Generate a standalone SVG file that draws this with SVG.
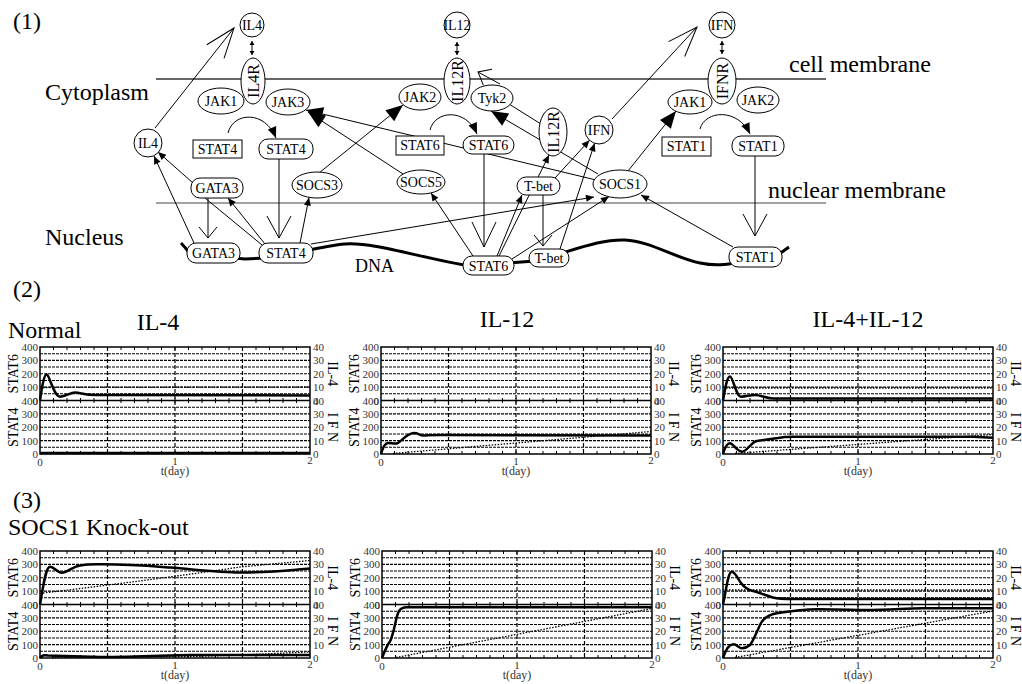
<svg xmlns="http://www.w3.org/2000/svg" xmlns:xlink="http://www.w3.org/1999/xlink" width="1022" height="684" viewBox="0 0 1022 684">
<style>
.n{fill:#fff;stroke:#000;stroke-width:1}
.t{font-family:"Liberation Serif",serif;font-size:14px;text-anchor:middle;fill:#000}
.tr{font-family:"Liberation Serif",serif;font-size:16px;text-anchor:middle;fill:#000}
.big{font-family:"Liberation Serif",serif;font-size:24px;fill:#000}
.e{fill:none;stroke:#000;stroke-width:1}
.sol{fill:none;stroke:#000;stroke-width:2.5;stroke-linejoin:round}
.dot{fill:none;stroke:#000;stroke-width:1.3;stroke-dasharray:1.5,1.5}
.grid{stroke:#000;stroke-width:1.1;stroke-dasharray:3,1;fill:none}
.vg{stroke:#000;stroke-width:1.2;stroke-dasharray:4,2;fill:none}
.tk{font-family:"Liberation Serif",serif;font-size:11px;fill:#333}
.ax{font-family:"Liberation Serif",serif;font-size:14px;fill:#000;text-anchor:middle}
</style>
<defs>
<marker id="arrS" markerUnits="userSpaceOnUse" orient="auto" overflow="visible" refX="0" refY="0" markerWidth="10" markerHeight="8"><path d="M0,0 L-8,-3.5 L-8,3.5 Z" fill="#000"/></marker>
<marker id="arrC" markerUnits="userSpaceOnUse" orient="auto" overflow="visible" refX="0" refY="0" markerWidth="12" markerHeight="10"><path d="M0,0 L-11,-4.5 L-11,4.5 Z" fill="#000"/></marker>
<marker id="arrF" markerUnits="userSpaceOnUse" orient="auto" overflow="visible" refX="0" refY="0" markerWidth="18" markerHeight="16"><path d="M0,0 L-17,-7 L-17,7 Z" fill="#000"/></marker>
<marker id="dbl" markerUnits="userSpaceOnUse" orient="auto-start-reverse" overflow="visible" refX="0" refY="0" markerWidth="6" markerHeight="6"><path d="M0,0 L-4,-2.5 L-4,2.5 Z" fill="#000"/></marker>
<marker id="vBig" markerUnits="userSpaceOnUse" orient="auto" overflow="visible" refX="0" refY="0" markerWidth="32" markerHeight="24"><path d="M-30,-11 L0,0 L-30,11" fill="none" stroke="#000" stroke-width="1"/></marker>
<marker id="vMed" markerUnits="userSpaceOnUse" orient="auto" overflow="visible" refX="0" refY="0" markerWidth="26" markerHeight="26"><path d="M-22,-12 L0,0 L-22,12" fill="none" stroke="#000" stroke-width="1"/></marker>
<marker id="vLong" markerUnits="userSpaceOnUse" orient="auto" overflow="visible" refX="0" refY="0" markerWidth="26" markerHeight="26"><path d="M-25,-12 L0,0 L-25,12" fill="none" stroke="#000" stroke-width="1"/></marker>
<marker id="vSm" markerUnits="userSpaceOnUse" orient="auto" overflow="visible" refX="0" refY="0" markerWidth="14" markerHeight="20"><path d="M-11,-9 L0,0 L-11,9" fill="none" stroke="#000" stroke-width="1"/></marker>
<g id="frame">
<path class="grid" d="M0,6.69H270M0,13.38H270M0,20.06H270M0,26.75H270M0,33.44H270M0,40.13H270M0,46.81H270M0,60.19H270M0,66.88H270M0,73.56H270M0,80.25H270M0,86.94H270M0,93.63H270M0,100.31H270"/>
<path class="vg" d="M67.5,0V107M135,0V107M202.5,0V107"/>
<path d="M13.5,0v3M27,0v3M40.5,0v3M54,0v3M67.5,0v3M81,0v3M94.5,0v3M108,0v3M121.5,0v3M135,0v3M148.5,0v3M162,0v3M175.5,0v3M189,0v3M202.5,0v3M216,0v3M229.5,0v3M243,0v3M256.5,0v3M13.5,107v-3M27,107v-3M40.5,107v-3M54,107v-3M67.5,107v-3M81,107v-3M94.5,107v-3M108,107v-3M121.5,107v-3M135,107v-3M148.5,107v-3M162,107v-3M175.5,107v-3M189,107v-3M202.5,107v-3M216,107v-3M229.5,107v-3M243,107v-3M256.5,107v-3M13.5,51v5M27,51v5M40.5,51v5M54,51v5M67.5,51v5M81,51v5M94.5,51v5M108,51v5M121.5,51v5M135,51v5M148.5,51v5M162,51v5M175.5,51v5M189,51v5M202.5,51v5M216,51v5M229.5,51v5M243,51v5M256.5,51v5" stroke="#000" stroke-width="1" fill="none"/>
<rect x="0" y="0" width="270" height="107" fill="none" stroke="#000" stroke-width="1.5"/>
<path d="M0,53.5H270" stroke="#000" stroke-width="1.5"/>
<g class="tk" text-anchor="end">
<text x="-2" y="4">400</text><text x="-2" y="17.4">300</text><text x="-2" y="30.8">200</text><text x="-2" y="44.1">100</text><text x="-2" y="57.5">400</text><text x="-2" y="57.5">0</text><text x="-2" y="70.9">300</text><text x="-2" y="84.3">200</text><text x="-2" y="97.6">100</text><text x="-2" y="111">0</text>
</g>
<g class="tk">
<text x="273" y="4">40</text><text x="273" y="17.4">30</text><text x="273" y="30.8">20</text><text x="273" y="44.1">10</text><text x="273" y="57.5">40</text><text x="273" y="57.5">0</text><text x="273" y="70.9">30</text><text x="273" y="84.3">20</text><text x="273" y="97.6">10</text><text x="273" y="111">0</text>
</g>
<g class="tk" text-anchor="middle">
<text x="0" y="119">0</text><text x="135" y="118">1</text><text x="270" y="117">2</text>
<text x="135" y="128" font-size="12">t(day)</text>
</g>
<text class="ax" transform="translate(-22,26.75) rotate(-90)">STAT6</text>
<text class="ax" transform="translate(-22,80.25) rotate(-90)">STAT4</text>
<text class="ax" transform="translate(18,26.75) translate(270,0) rotate(90)">IL-4</text>
<text class="ax" transform="translate(18,80.25) translate(270,0) rotate(90)">I F N</text>
</g>
</defs>
<rect x="0" y="0" width="1022" height="684" fill="#fff"/>

<!-- Section (1) labels and membranes -->
<text class="big" x="13" y="29">(1)</text>
<text class="big" x="45" y="100">Cytoplasm</text>
<text class="big" x="45" y="245">Nucleus</text>
<text class="big" x="789" y="72">cell membrane</text>
<text class="big" x="768" y="198">nuclear membrane</text>
<path d="M156,79H826" stroke="#666" stroke-width="2"/>
<path d="M156,203H826" stroke="#444" stroke-width="1"/>
<path id="dna" d="M181,243 Q185,247 190,254 L245,259 L265,258 C290,256 320,246 345,244 C375,242 420,258 470,266 L535,261 C575,250 600,239 625,240 C650,241 675,258 700,263 C715,266 725,265 740,262 L782,252 L789,247" fill="none" stroke="#000" stroke-width="3"/>
<text x="355" y="272" font-family="Liberation Serif, serif" font-size="18">DNA</text>

<g id="connectors">
<path class="e" d="M155,128 L234,28" marker-end="url(#vBig)"/>
<path class="e" d="M612,119 L697,27" marker-end="url(#vBig)"/>
<path class="e" d="M252,41 V55" marker-start="url(#dbl)" marker-end="url(#dbl)"/>
<path class="e" d="M457,42 V55" marker-start="url(#dbl)" marker-end="url(#dbl)"/>
<path class="e" d="M722,41 V54" marker-start="url(#dbl)" marker-end="url(#dbl)"/>
<path class="e" d="M228,133 C233,112 265,110 276,138" marker-end="url(#arrC)"/>
<path class="e" d="M430,130 C435,110 466,108 477,134" marker-end="url(#arrC)"/>
<path class="e" d="M700,129 C705,110 738,108 750,134" marker-end="url(#arrC)"/>
<path class="e" d="M279,159 V238" marker-end="url(#vMed)"/>
<path class="e" d="M484,154 V247" marker-end="url(#vLong)"/>
<path class="e" d="M755,156 V236" marker-end="url(#vMed)"/>
<path class="e" d="M208,198 V238" marker-end="url(#vSm)"/>
<path class="e" d="M543,195 V246" marker-end="url(#vSm)"/>
<path class="e" d="M194,243 L154,156" marker-end="url(#arrS)"/>
<path class="e" d="M193,183 L158,152" marker-end="url(#arrS)"/>
<path class="e" d="M265,244 L228,198" marker-end="url(#arrS)"/>
<path class="e" d="M205,198 L262,245"/>
<path class="e" d="M300,243 L309,197.5" marker-end="url(#arrS)"/>
<path class="e" d="M319,173 L403,105" marker-end="url(#arrF)"/>
<path class="e" d="M311,244 L594,197" marker-end="url(#arrS)"/>
<path class="e" d="M596,180 L306,110" marker-end="url(#arrF)"/>
<path class="e" d="M403,174 L308,112" marker-end="url(#arrF)"/>
<path class="e" d="M473,256 L431,193" marker-end="url(#arrS)"/>
<path class="e" d="M497,256 L522,195" marker-end="url(#arrS)"/>
<path class="e" d="M499,256 L549,155" marker-end="url(#arrS)"/>
<path class="e" d="M512,259 L609,196.5" marker-end="url(#arrS)"/>
<path class="e" d="M560,249 L594.6,143.3" marker-end="url(#arrS)"/>
<path class="e" d="M555,178 L589.5,140.3" marker-end="url(#arrS)"/>
<path class="e" d="M509,104 L541,124"/>
<path class="e" d="M598,174 L491,111" marker-end="url(#arrF)"/>
<path class="e" d="M500,84 L478,72" marker-end="url(#vSm)"/>
<path class="e" d="M628,171 L676,111" marker-end="url(#arrF)"/>
<path class="e" d="M733,247 L641,195" marker-end="url(#arrS)"/>
</g>

<g id="node-IL4-top"><circle class="n" cx="252" cy="25" r="12"/><text class="t" x="252" y="30" font-size="13">IL4</text></g>
<g id="node-IL4R"><ellipse class="n" cx="253" cy="81" rx="12" ry="23"/><text class="tr" transform="translate(258.5,81) rotate(-90)">IL4R</text></g>
<g id="node-IL12-top"><circle class="n" cx="457" cy="25" r="13"/><text class="t" x="457" y="30" font-size="13">IL12</text></g>
<g id="node-IL12R"><ellipse class="n" cx="457" cy="81" rx="13" ry="23"/><text class="tr" transform="translate(462.5,81) rotate(-90)">IL12R</text></g>
<g id="node-IFN-top"><circle class="n" cx="722" cy="25" r="13"/><text class="t" x="722" y="30" font-size="13">IFN</text></g>
<g id="node-IFNR"><ellipse class="n" cx="722" cy="81" rx="14" ry="23"/><text class="tr" transform="translate(727.5,81) rotate(-90)">IFNR</text></g>
<g id="node-JAK1"><ellipse class="n" cx="221" cy="101" rx="23" ry="13"/><text class="t" x="221" y="106">JAK1</text></g>
<g id="node-JAK3"><ellipse class="n" cx="288" cy="102" rx="22" ry="13"/><text class="t" x="288" y="107">JAK3</text></g>
<g id="node-JAK2"><ellipse class="n" cx="420" cy="97" rx="21" ry="13"/><text class="t" x="420" y="102">JAK2</text></g>
<g id="node-Tyk2"><ellipse class="n" cx="492" cy="98" rx="21" ry="13"/><text class="t" x="492" y="103">Tyk2</text></g>
<g id="node-JAK1-r"><ellipse class="n" cx="690" cy="102" rx="22" ry="12"/><text class="t" x="690" y="107">JAK1</text></g>
<g id="node-JAK2-r"><ellipse class="n" cx="758" cy="100" rx="21" ry="13"/><text class="t" x="758" y="105">JAK2</text></g>
<g id="node-IL4-cyto"><circle class="n" cx="148" cy="143" r="14"/><text class="t" x="148" y="148" font-size="13">IL4</text></g>
<g id="node-STAT4-rect"><rect class="n" x="193" y="140" width="49" height="18"/><text class="t" x="217.5" y="154">STAT4</text></g>
<g id="node-STAT4-cyto"><rect class="n" x="259" y="139" width="54" height="20" rx="9"/><text class="t" x="286" y="154">STAT4</text></g>
<g id="node-STAT6-rect"><rect class="n" x="396" y="136" width="48" height="19"/><text class="t" x="420" y="150">STAT6</text></g>
<g id="node-STAT6-cyto"><rect class="n" x="463" y="136" width="51" height="18" rx="9"/><text class="t" x="488.5" y="150">STAT6</text></g>
<g id="node-STAT1-rect"><rect class="n" x="662" y="137" width="49" height="19"/><text class="t" x="686.5" y="151">STAT1</text></g>
<g id="node-STAT1-cyto"><rect class="n" x="732" y="136" width="52" height="20" rx="9"/><text class="t" x="758" y="151">STAT1</text></g>
<g id="node-IL12R-cyto"><ellipse class="n" cx="553" cy="132" rx="14" ry="24"/><text class="tr" transform="translate(558.5,132) rotate(-90)">IL12R</text></g>
<g id="node-IFN-cyto"><circle class="n" cx="599" cy="130" r="14"/><text class="t" x="599" y="135" font-size="13">IFN</text></g>
<g id="node-GATA3-cyto"><rect class="n" x="191" y="178" width="52" height="20" rx="9"/><text class="t" x="217" y="193">GATA3</text></g>
<g id="node-SOCS3"><ellipse class="n" cx="317" cy="185" rx="25" ry="13"/><text class="t" x="317" y="190">SOCS3</text></g>
<g id="node-SOCS5"><ellipse class="n" cx="421" cy="182" rx="24" ry="12"/><text class="t" x="421" y="187">SOCS5</text></g>
<g id="node-Tbet-cyto"><rect class="n" x="517" y="177" width="43" height="18" rx="9"/><text class="t" x="538.5" y="191">T-bet</text></g>
<g id="node-SOCS1"><ellipse class="n" cx="620" cy="184" rx="27" ry="14"/><text class="t" x="620" y="189">SOCS1</text></g>
<g id="node-GATA3-nuc"><rect class="n" x="187" y="243" width="53" height="20" rx="9"/><text class="t" x="213.5" y="258">GATA3</text></g>
<g id="node-STAT4-nuc"><rect class="n" x="259" y="243" width="54" height="20" rx="9"/><text class="t" x="286" y="258">STAT4</text></g>
<g id="node-STAT6-nuc"><rect class="n" x="463" y="256" width="51" height="19" rx="9"/><text class="t" x="488.5" y="270.5">STAT6</text></g>
<g id="node-Tbet-nuc"><rect class="n" x="529" y="249" width="40" height="18" rx="9"/><text class="t" x="549" y="263">T-bet</text></g>
<g id="node-STAT1-nuc"><rect class="n" x="729" y="247" width="53" height="20" rx="9"/><text class="t" x="755.5" y="262">STAT1</text></g>

<!-- Section (2) -->
<text class="big" x="13" y="297">(2)</text>
<text class="big" x="8" y="338">Normal</text>
<text class="big" x="158" y="330" text-anchor="middle">IL-4</text>
<text class="big" x="507" y="327" text-anchor="middle">IL-12</text>
<text class="big" x="868" y="327" text-anchor="middle">IL-4+IL-12</text>

<g id="plot-normal-il4" transform="translate(40,347)">
<use href="#frame" xlink:href="#frame"/>
<path class="sol" d="M0,53.5 C2,40 4,27 6.7,27.5 C9.5,28 14,49.7 20,49.7 C26,49.7 30,45.5 35,45.5 C40,45.5 45,48 55,48 L270,48.5"/>
<path class="dot" d="M3,40.5 L270,40"/>
<path class="sol" d="M0,106 L270,106"/>
</g>
<g id="plot-normal-il12" transform="translate(381,347)">
<use href="#frame" xlink:href="#frame"/>
<path class="sol" d="M0,107 C2,100 4,96 7,96 C10,96 13,97 16,96.5 C20,95 26,86 33,86 C37,86 39,88.5 42,88.5 C46,88.5 50,88 60,88 L270,88.5"/>
<path class="dot" d="M12,106.5 L270,84.5"/>
</g>
<g id="plot-normal-il4il12" transform="translate(723,347)">
<use href="#frame" xlink:href="#frame"/>
<path class="sol" d="M0,53.5 C2,42 4,29.5 7,29.5 C10,29.5 13,49.7 18,49.7 C23,49.7 27,48 32,48 C38,48 42,51.3 50,51.5 L270,51.5"/>
<path class="dot" d="M3,41 L270,41"/>
<path class="sol" d="M0,107 C2,100 4,96.3 7,96.3 C10,96.3 14,104.7 19,104.7 C24,104.7 28,95 34,94 C40,93 46,92.5 55,91 C60,90 64,89.7 70,89.7 L250,89.7 L270,90.7"/>
<path class="dot" d="M12,106.5 L270,87.5"/>
</g>

<!-- Section (3) -->
<text class="big" x="13" y="508">(3)</text>
<text class="big" x="8" y="535">SOCS1 Knock-out</text>

<g id="plot-ko-il4" transform="translate(40,551)">
<use href="#frame" xlink:href="#frame"/>
<path class="sol" d="M0,53.5 C4,30 6,16 10,15.7 C14,15.5 17,21.7 21.7,21.7 C27,21.7 32,16 40,14.5 C48,13 55,13.3 62,13.3 C90,13.3 110,15 130,16.5 C160,19 180,21.5 200,21.5 C230,21.5 250,19 270,17.5"/>
<path class="dot" d="M3,42 C70,34 140,25 200,16 L270,9.5"/>
<path class="sol" d="M0,107 C2,104 4,104 8,104.5 L60,106 C100,106 130,104 150,104 L270,104"/>
<path class="dot" d="M12,106.5 L150,105.5 C200,104.5 240,102 270,101"/>
</g>
<g id="plot-ko-il12" transform="translate(382,551)">
<use href="#frame" xlink:href="#frame"/>
<path class="sol" d="M0,107 C3,100 5,94 7,92 C9,90 10,85 11.5,80 C13,75 14.5,64 17,60 C19,57 21,56.3 25,56.3 L270,56.3"/>
<path class="dot" d="M14,106.5 L270,57.5"/>
</g>
<g id="plot-ko-il4il12" transform="translate(723,551)">
<use href="#frame" xlink:href="#frame"/>
<path class="sol" d="M0,53.5 C3,40 5,21 8.7,20.7 C12,20.5 15,28 18,32 C21,36 24,38.5 30,40 C36,41.5 42,44 50,46.5 C56,48 62,48 70,48 L270,48"/>
<path class="dot" d="M3,39 L270,39"/>
<path class="sol" d="M0,107 C3,98 6,93.3 10.3,93.3 C14,93.3 16,97.3 19,97.3 C22,97.3 24,96.5 27,94 C30,91 34,80 38,72 C42,65 48,63 55,62 C65,60.5 80,58.5 95,58.3 C120,58.3 130,59 140,59 C170,59 180,57.3 200,57.3 L270,57.3"/>
<path class="dot" d="M12,106.5 L270,60"/>
</g>
</svg>
